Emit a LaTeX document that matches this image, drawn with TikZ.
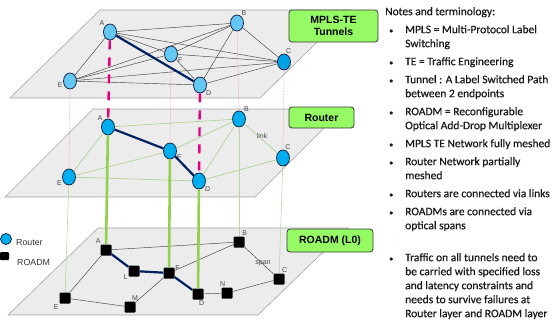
\documentclass[tikz,border=0pt]{standalone}
\usepackage{fontspec}
\setmainfont{Carlito}
\setsansfont{Liberation Sans}
\newfontfamily\notefont{Carlito}[RawFeature={embolden=0.6}]
\usetikzlibrary{positioning}
\usetikzlibrary{shapes.geometric}
\definecolor{planegray}{RGB}{236,236,236}
\definecolor{planeedge}{RGB}{165,165,165}
\definecolor{tunnelblue}{RGB}{100,200,245}
\definecolor{tunnelblueC}{RGB}{0,160,228}
\definecolor{routerblue}{RGB}{0,174,239}
\definecolor{nodeedge}{RGB}{20,40,70}
\definecolor{navy}{RGB}{0,32,96}
\definecolor{tunnelpink}{RGB}{228,0,124}
\definecolor{dotpink}{RGB}{232,120,185}
\definecolor{linkgreen}{RGB}{160,205,130}
\definecolor{riser}{RGB}{146,208,80}
\definecolor{thinriser}{RGB}{185,215,165}
\definecolor{boxgreen}{RGB}{150,250,100}
\definecolor{boxedge}{RGB}{50,60,50}
\definecolor{labelgray}{RGB}{70,70,70}
\tikzset{%
	% Specifications for style of planes and nodes:
	plane/.style = {draw=planeedge, fill=planegray, line width=0.6pt},
	tunnelnode/.style = {ellipse, draw=nodeedge, fill=tunnelblue, minimum width=13pt, minimum height=16pt, inner sep=0pt, line width=0.8pt},
	routernode/.style = {tunnelnode, fill=routerblue},
	roadmnode/.style = {rectangle, rounded corners=1pt, fill=black, minimum size=11pt, inner sep=0pt},
	lbl/.style = {font=\sffamily\fontsize{7}{8}\selectfont, text=labelgray, inner sep=0.5pt},
	layerbox/.style = {rectangle, rounded corners=3pt, draw=boxedge, fill=boxgreen, line width=0.8pt, align=center, inner sep=0pt, font=\sffamily\bfseries\fontsize{10.5}{12}\selectfont},
	legend/.style = {font=\sffamily\fontsize{8.8}{10}\selectfont, text=black!80, anchor=west, inner sep=0pt},
	notes/.style = {font=\notefont\fontsize{11.5}{14}\selectfont, text=black!90, align=left, anchor=north west, inner sep=0pt},
	% Specifications for style of lines:
	meshline/.style = {draw=black!75, line width=0.45pt},
	linkline/.style = {draw=linkgreen, line width=0.55pt},
	spanline/.style = {draw=black!75, line width=0.45pt},
	pathline/.style = {draw=navy, line width=2.2pt},
	tunnelriser/.style = {draw=tunnelpink, line width=2.4pt, dash pattern=on 9pt off 8pt},
	dotriser/.style = {draw=dotpink, line width=0.5pt, densely dotted},
	thickriser/.style = {draw=riser, line width=2.6pt},
	thinriser/.style = {draw=thinriser, line width=0.6pt},
}
\newcommand{\itm}{\makebox[20pt][l]{\hspace{4pt}{\fontsize{8}{8}\selectfont\textbullet}}}
\newcommand{\cnt}{\hspace*{20pt}}

\begin{document}
\begin{tikzpicture}[x=1pt,y=-1pt]
		\useasboundingbox (0,0) rectangle (552,325);
		% planes
		\draw [plane] (10,98) -- (100,10) -- (350,10) -- (260,98) -- cycle;
		\draw [plane] (5,197) -- (93,109) -- (343,109) -- (255,197) -- cycle;
		\draw [plane] (8,315) -- (98,228) -- (348,228) -- (258,315) -- cycle;
		
		% MPLS-TE layer
		\node (tA) [tunnelnode, label={[lbl]130:A}] at (110,32) {};
		\node (tB) [tunnelnode, label={[lbl]60:B}] at (237,23) {};
		\node (tC) [tunnelnode, fill=tunnelblueC, label={[lbl]80:C}] at (284,62) {};
		\node (tF) [tunnelnode, label={[lbl]-25:F}] at (171,54) {};
		\node (tE) [tunnelnode, label={[lbl]190:E}] at (70,81) {};
		\node (tD) [tunnelnode, label={[lbl]-45:D}] at (200,85) {};
		
		% Router layer
		\node (rA) [routernode, label={[lbl]127:A}] at (108,127) {};
		\node (rB) [routernode, label={[lbl]55:B}] at (239,119) {};
		\node (rC) [routernode, label={[lbl]78:C}] at (283,158) {};
		\node (rF) [routernode, label={[lbl]-25:F}] at (170,151) {};
		\node (rE) [routernode, label={[lbl]205:E}] at (69,177) {};
		\node (rD) [routernode, label={[lbl]-45:D}] at (199,181) {};
		\node (link) [lbl] at (262,136) {link};
		
		% ROADM layer
		\node (oA) [roadmnode, label={[lbl]130:A}] at (106,250) {};
		\node (oB) [roadmnode, label={[lbl]65:B}] at (239,242) {};
		\node (oC) [roadmnode, label={[lbl]66:C}] at (279,279) {};
		\node (oL) [roadmnode, label={[lbl]210:L}] at (134,271) {};
		\node (oF) [roadmnode, label={[lbl]20:F}] at (169,273) {};
		\node (oE) [roadmnode, label={[lbl]225:E}] at (65,298) {};
		\node (oM) [roadmnode, label={[lbl]77:M}] at (130,307) {};
		\node (oD) [roadmnode, label={[lbl]-85:D}] at (198,294) {};
		\node (oN) [roadmnode, label={[lbl]100:N}] at (227,293) {};
		\node (span) [lbl] at (263,263) {span};
		
		% layer titles
		\node (TunnelBox) [layerbox, minimum width=89pt, minimum height=32pt] at (333.5,26) {MPLS-TE\\Tunnels};
		\node (RouterBox) [layerbox, minimum width=65pt, minimum height=21pt] at (321.5,117.5) {Router};
		\node (RoadmBox) [layerbox, minimum width=86pt, minimum height=23pt] at (330,240.5) {ROADM (L0)};
		
		% legend
		\node (legR) [routernode, minimum width=11pt, minimum height=11pt, circle] at (6,239) {};
		\node (legRtext) [legend] at (16,243) {Router};
		\node (legO) [roadmnode, minimum width=9pt, minimum height=8pt] at (4.5,256) {};
		\node (legOtext) [legend] at (17,262) {ROADM};
		
		% tunnels: full mesh
		\foreach \a/\b in {tA/tB, tA/tC, tA/tE, tA/tF, tB/tC, tB/tD, tB/tE, tB/tF,
		                   tC/tD, tC/tE, tC/tF, tD/tE, tD/tF, tE/tF}
		  \draw [meshline] (\a) -- (\b);
		\draw [pathline] (tA) -- (tD);
		
		% router links
		\foreach \a/\b in {rA/rB, rA/rE, rB/rF, rB/rD, rB/rC, rF/rE, rE/rD, rD/rC}
		  \draw [linkline] (\a) -- (\b);
		\draw [pathline] (rA) -- (rF) -- (rD);
		
		% optical spans
		\foreach \a/\b in {oA/oB, oA/oE, oE/oM, oM/oF, oF/oB, oB/oC, oC/oN, oN/oD}
		  \draw [spanline] (\a) -- (\b);
		\draw [pathline] (oA) -- (oL) -- (oF) -- (oD);
		
		% between layers
		\foreach \n in {E,F,B,C}
		  \draw [dotriser] (t\n) -- (r\n);
		\draw [tunnelriser] (tA) -- (rA);
		\draw [tunnelriser] (tD) -- (rD);
		\foreach \n in {E,B,C}
		  \draw [thinriser] (r\n) -- (o\n);
		\foreach \n in {A,F,D}
		  \draw [thickriser] (r\n) -- (o\n);
		
		% notes
		\node (notes) [notes] at (385,7) {Notes and terminology:\\[4pt]
		  \itm MPLS = Multi-Protocol Label\\ \cnt Switching\\[4pt]
		  \itm TE = Traffic Engineering\\[4pt]
		  \itm Tunnel : A Label Switched Path\\ \cnt between 2 endpoints\\[4pt]
		  \itm ROADM = Reconfigurable\\ \cnt Optical Add-Drop Multiplexer\\[4pt]
		  \itm MPLS TE Network fully meshed\\[4pt]
		  \itm Router Network partially\\ \cnt meshed\\[4pt]
		  \itm Routers are connected via links\\[4pt]
		  \itm ROADMs are connected via\\ \cnt optical spans\\[18pt]
		  \itm Traffic on all tunnels need to\\ \cnt be carried with specified loss\\
		  \cnt and latency constraints and\\ \cnt needs to survive failures at\\
		  \cnt Router layer and ROADM layer};
     \end{tikzpicture}
\end{document}
